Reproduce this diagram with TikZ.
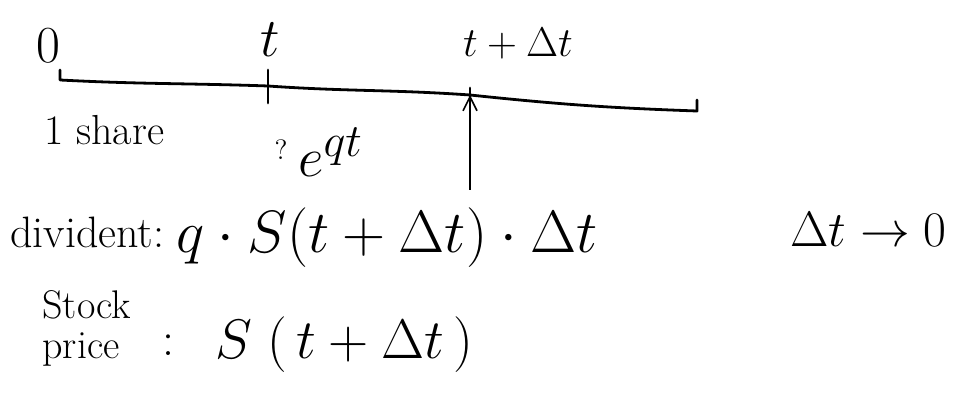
\documentclass[tikz,border=0pt]{standalone}
\usepackage{graphicx}
\usepackage{amsmath, amssymb}
\usetikzlibrary{arrows.meta, positioning}

\begin{document}
\begin{tikzpicture}[x=0.5pt, y=-0.5pt,
		>={Straight Barb[length=7pt, width=7pt]},   %Voreinstellung für Pfeilspitzen
		gr/.style={font=\fontsize{#1}{#1}\selectfont, inner sep=0pt},
		mgr/.style={font=\Huge, inner sep=0pt},
		achse/.style={line width=1.4pt, line cap=round, line join=round}]
		\useasboundingbox (0,0) rectangle (964,410);
		% Zeitachse zeichnen
		\coordinate (a0) at (60,80);
		\coordinate (t1) at (268,86);
		\coordinate (t2) at (470,95);
		\coordinate (a3) at (697,111);
		\draw[achse] (60,70) -- (a0) to[out=-3,in=178] (t1) to[out=-4,in=176] (t2) to[out=-6,in=178] (a3) -- (697,100);
		% Striche
		\draw[achse] (268,70) -- (268,103);
		\draw[achse] (470,88) -- (470,102);
		% Pfeil
		\coordinate (pfeil) at (470,190);
		\draw[->, line width=0.8pt] (pfeil) -- (t2);
		% Achse beschriften
		\node[gr=26pt] (null) at (48,46) {0};
		\node[mgr] (tlab) at (270,40) {\scalebox{1.1}{$t$}};
		\node[gr=22pt] (tdlab) at (518,44) {$t+\Delta t$};
		\node[gr=21pt, anchor=west] (share) at (44,130) {1 share};
		\node[gr=14pt] (frage) at (281,150) {?};
		\node[mgr, anchor=west] (eqt) at (298,152) {\scalebox{1.12}{$e^{qt}$}};
		% Dividende
		\node[gr=22pt, anchor=west] (div) at (10,232) {divident:};
		\node[mgr, anchor=west] (divformel) at (176,238) {\scalebox{1.2}{$q\cdot S(t+\Delta t)\cdot\Delta t$}};
		\node[gr=24pt, anchor=west] (grenz) at (790,230) {$\Delta t\to 0$};
		% Aktienkurs
		\node[gr=20pt, align=left, anchor=west] (kurs) at (42,328) {Stock\\price};
		\node[gr=24pt] (dp) at (168,345) {:};
		\node[mgr, anchor=west] (sformel) at (215,345) {\scalebox{1.12}{$S\;(\,t+\Delta t\,)$}};
	\end{tikzpicture}
\end{document}
